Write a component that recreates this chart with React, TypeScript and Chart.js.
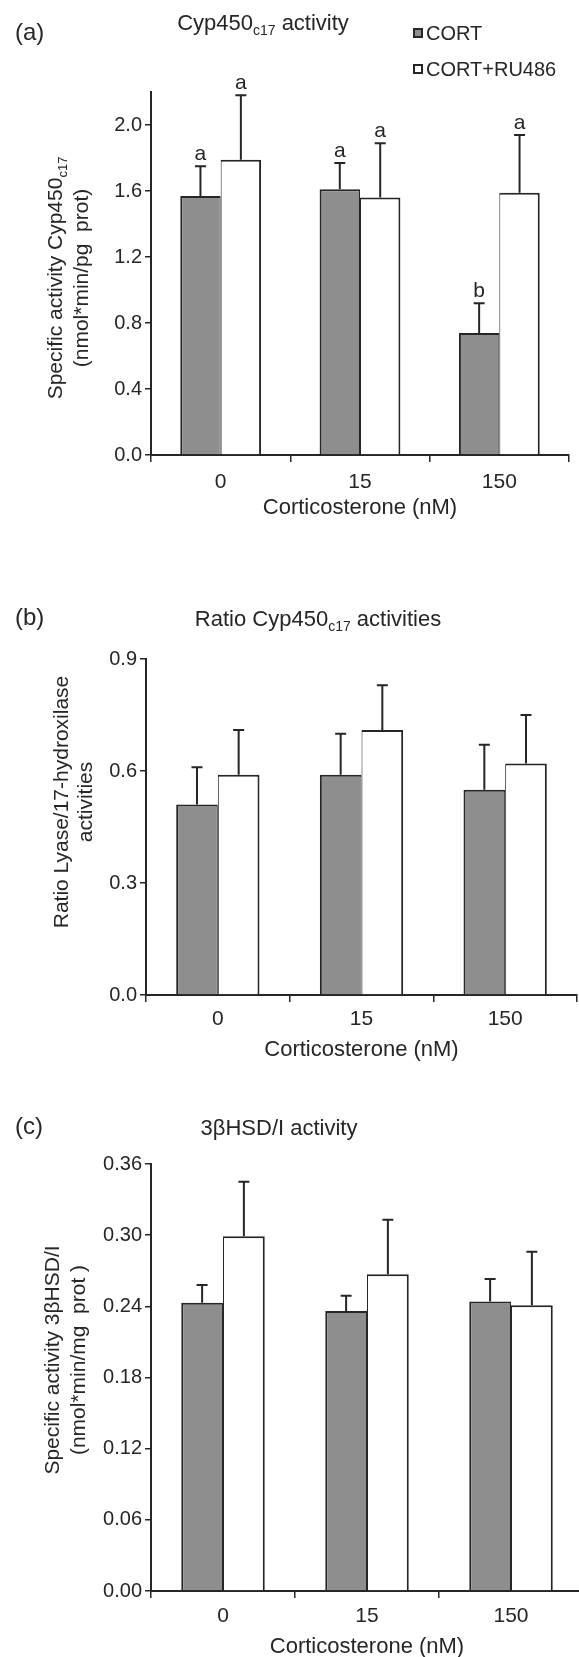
import React, { useEffect, useRef } from 'react';
import { Chart, registerables } from 'chart.js';

Chart.register(...registerables);

// ---------- data ----------
const categories = ['0', '15', '150'];
const seriesNames = ['CORT', 'CORT+RU486'];

// (a) Cyp450c17 activity
const cypCort = [1.57, 1.61, 0.74];
const cypCortErr = [0.18, 0.16, 0.18];
const cypRu = [1.79, 1.56, 1.59];
const cypRuErr = [0.39, 0.33, 0.35];
const cypCortLetters = ['a', 'a', 'b'];
const cypRuLetters = ['a', 'a', 'a'];

// (b) Ratio Cyp450c17 activities
const ratioCort = [0.51, 0.59, 0.55];
const ratioCortErr = [0.1, 0.11, 0.12];
const ratioRu = [0.59, 0.71, 0.62];
const ratioRuErr = [0.12, 0.12, 0.13];

// (c) 3βHSD/I activity
const hsdCort = [0.243, 0.236, 0.244];
const hsdCortErr = [0.015, 0.013, 0.019];
const hsdRu = [0.299, 0.267, 0.241];
const hsdRuErr = [0.046, 0.046, 0.045];

const xTitle = 'Corticosterone (nM)';

// ---------- styling ----------
const FONT = "'Liberation Sans', Arial, Helvetica, sans-serif";
const INK = '#262626';
const GRAY = '#8e8e8e';

type Part = { t: string; sub?: boolean };

interface PanelSpec {
  top: number;
  width: number;
  height: number;
  area: { left: number; right: number; top: number; bottom: number };
  yMax: number;
  yStep: number;
  decimals: number;
  cort: number[];
  cortErr: number[];
  ru: number[];
  ruErr: number[];
  cortLetters?: string[];
  ruLetters?: string[];
  panelLabel: string;
  labelY: number;
  title: Part[];
  titleX: number;
  titleY: number;
  yTitle: Part[][];
  yTitleX: number[];
  yTitleY: number;
  legend?: boolean;
  xTickPad: number;
}

const panels: PanelSpec[] = [
  {
    top: 0,
    width: 579,
    height: 521,
    area: { left: 151, right: 569, top: 92, bottom: 455 },
    yMax: 2.2,
    yStep: 0.4,
    decimals: 1,
    cort: cypCort,
    cortErr: cypCortErr,
    ru: cypRu,
    ruErr: cypRuErr,
    cortLetters: cypCortLetters,
    ruLetters: cypRuLetters,
    panelLabel: '(a)',
    labelY: 33,
    title: [{ t: 'Cyp450' }, { t: 'c17', sub: true }, { t: ' activity' }],
    titleX: 263,
    titleY: 22,
    yTitle: [
      [{ t: 'Specific activity Cyp450' }, { t: 'c17', sub: true }],
      [{ t: '(nmol*min/pg  prot)' }],
    ],
    yTitleX: [55, 81],
    yTitleY: 278,
    legend: true,
    xTickPad: 8,
  },
  {
    top: 560,
    width: 579,
    height: 503,
    area: { left: 146, right: 577, top: 659, bottom: 995 },
    yMax: 0.9,
    yStep: 0.3,
    decimals: 1,
    cort: ratioCort,
    cortErr: ratioCortErr,
    ru: ratioRu,
    ruErr: ratioRuErr,
    panelLabel: '(b)',
    labelY: 618,
    title: [{ t: 'Ratio Cyp450' }, { t: 'c17', sub: true }, { t: ' activities' }],
    titleX: 318,
    titleY: 618,
    yTitle: [[{ t: 'Ratio Lyase/17-hydroxilase' }], [{ t: 'activities' }]],
    yTitleX: [61, 85],
    yTitleY: 802,
    xTickPad: 5,
  },
  {
    top: 1080,
    width: 584,
    height: 580,
    area: { left: 151, right: 583, top: 1164, bottom: 1591 },
    yMax: 0.36,
    yStep: 0.06,
    decimals: 2,
    cort: hsdCort,
    cortErr: hsdCortErr,
    ru: hsdRu,
    ruErr: hsdRuErr,
    panelLabel: '(c)',
    labelY: 1127,
    title: [{ t: '3\u03B2HSD/I activity' }],
    titleX: 279,
    titleY: 1127,
    yTitle: [[{ t: 'Specific activity 3\u03B2HSD/I' }], [{ t: '(nmol*min/mg  prot )' }]],
    yTitleX: [52, 78],
    yTitleY: 1360,
    xTickPad: 6,
  },
];

function drawParts(
  ctx: CanvasRenderingContext2D,
  parts: Part[],
  x: number,
  baseline: number,
  size: number,
  align: 'center' | 'left'
) {
  const subSize = Math.round(size * 0.62);
  let total = 0;
  const widths: number[] = [];
  for (const p of parts) {
    ctx.font = `${p.sub ? subSize : size}px ${FONT}`;
    const w = ctx.measureText(p.t).width;
    widths.push(w);
    total += w;
  }
  let cx = align === 'center' ? x - total / 2 : x;
  ctx.textAlign = 'left';
  ctx.textBaseline = 'alphabetic';
  parts.forEach((p, i) => {
    ctx.font = `${p.sub ? subSize : size}px ${FONT}`;
    ctx.fillText(p.t, cx, p.sub ? baseline + size * 0.22 : baseline);
    cx += widths[i];
  });
}

function Panel({ spec }: { spec: PanelSpec }) {
  const ref = useRef<HTMLCanvasElement>(null);

  useEffect(() => {
    const canvas = ref.current;
    if (!canvas) return;
    const off = spec.top;
    const a = spec.area;

    const annotate = {
      id: 'annotate',
      afterDatasetsDraw(chart: any) {
        const ctx: CanvasRenderingContext2D = chart.ctx;
        const ys = chart.scales.y;
        ctx.save();
        const groups: [number[], number[], string[] | undefined][] = [
          [spec.cort, spec.cortErr, spec.cortLetters],
          [spec.ru, spec.ruErr, spec.ruLetters],
        ];
        groups.forEach(([vals, errs, letters], di) => {
          const meta = chart.getDatasetMeta(di);
          meta.data.forEach((el: any, i: number) => {
            const topPx = ys.getPixelForValue(vals[i] + errs[i]);
            const x = el.x;
            ctx.strokeStyle = INK;
            ctx.lineWidth = 2;
            ctx.beginPath();
            ctx.moveTo(x, el.y);
            ctx.lineTo(x, topPx);
            ctx.moveTo(x - 5.5, topPx);
            ctx.lineTo(x + 5.5, topPx);
            ctx.stroke();
            if (letters) {
              ctx.fillStyle = INK;
              ctx.font = `21px ${FONT}`;
              ctx.textAlign = 'center';
              ctx.textBaseline = 'alphabetic';
              ctx.fillText(letters[i], x, topPx - 6);
            }
          });
        });
        ctx.restore();
      },
      afterDraw(chart: any) {
        const ctx: CanvasRenderingContext2D = chart.ctx;
        ctx.save();
        ctx.fillStyle = INK;
        // panel label
        ctx.font = `24px ${FONT}`;
        ctx.textAlign = 'left';
        ctx.textBaseline = 'middle';
        ctx.fillText(spec.panelLabel, 15, spec.labelY - off);
        // title
        drawParts(ctx, spec.title, spec.titleX, spec.titleY - off + 22 * 0.35, 22, 'center');
        // y-axis title
        spec.yTitle.forEach((line, i) => {
          ctx.save();
          ctx.translate(spec.yTitleX[i], spec.yTitleY - off);
          ctx.rotate(-Math.PI / 2);
          drawParts(ctx, line, 0, 21 * 0.35, 21, 'center');
          ctx.restore();
        });
        // legend
        if (spec.legend) {
          const rows = [
            { name: seriesNames[0], fill: GRAY, y: 33 },
            { name: seriesNames[1], fill: '#ffffff', y: 69 },
          ];
          rows.forEach((r) => {
            const yy = r.y - off;
            ctx.fillStyle = INK;
            ctx.fillRect(413, yy - 5, 10, 10);
            ctx.fillStyle = r.fill;
            ctx.fillRect(415, yy - 3, 6, 6);
            ctx.fillStyle = INK;
            ctx.font = `20px ${FONT}`;
            ctx.textAlign = 'left';
            ctx.textBaseline = 'middle';
            ctx.fillText(r.name, 426, yy + 1);
          });
        }
        ctx.restore();
      },
    };

    const chart = new Chart(canvas, {
      type: 'bar',
      data: {
        labels: categories,
        datasets: [
          {
            label: seriesNames[0],
            data: spec.cort,
            backgroundColor: GRAY,
            borderColor: INK,
            borderWidth: { left: 2, top: 2, right: 1, bottom: 0 } as any,
            borderSkipped: false,
            categoryPercentage: 0.58,
            barPercentage: 1.0,
          },
          {
            label: seriesNames[1],
            data: spec.ru,
            backgroundColor: '#ffffff',
            borderColor: INK,
            borderWidth: { left: 1, top: 2, right: 2, bottom: 0 } as any,
            borderSkipped: false,
            categoryPercentage: 0.58,
            barPercentage: 1.0,
          },
        ],
      },
      options: {
        responsive: false,
        animation: false,
        devicePixelRatio: 1,
        layout: {
          padding: { top: a.top - off, right: spec.width - a.right, left: 0, bottom: 0 },
        },
        plugins: {
          legend: { display: false },
          title: { display: false },
          tooltip: { enabled: false },
        },
        scales: {
          x: {
            type: 'category',
            offset: true,
            grid: {
              offset: true,
              drawOnChartArea: false,
              drawTicks: true,
              tickLength: 7,
              color: INK,
              lineWidth: 1.5,
            },
            border: { display: true, color: INK, width: 2 },
            ticks: {
              color: INK,
              font: { family: FONT, size: 21 },
              padding: spec.xTickPad,
              maxRotation: 0,
            },
            title: {
              display: true,
              text: xTitle,
              color: INK,
              font: { family: FONT, size: 22 },
              padding: 0,
            },
            afterFit: (s: any) => {
              s.height = spec.height - (a.bottom - off);
            },
          },
          y: {
            min: 0,
            max: spec.yMax,
            grid: {
              drawOnChartArea: false,
              drawTicks: true,
              tickLength: 6,
              color: INK,
              lineWidth: 1.5,
            },
            border: { display: true, color: INK, width: 2 },
            ticks: {
              stepSize: spec.yStep,
              includeBounds: false,
              color: INK,
              font: { family: FONT, size: 20 },
              padding: 3,
              callback: (v: any) => Number(v).toFixed(spec.decimals),
            },
            afterFit: (s: any) => {
              s.width = a.left;
            },
          },
        },
      } as any,
      plugins: [annotate],
    });

    return () => chart.destroy();
  }, [spec]);

  return (
    <canvas
      ref={ref}
      width={spec.width}
      height={spec.height}
      style={{ position: 'absolute', left: 0, top: spec.top, width: spec.width, height: spec.height }}
    />
  );
}

export default function App() {
  return (
    <div
      style={{
        position: 'absolute',
        left: 0,
        top: 0,
        width: 579,
        height: 1657,
        overflow: 'hidden',
        background: '#ffffff',
      }}
    >
      {panels.map((p, i) => (
        <Panel key={i} spec={p} />
      ))}
    </div>
  );
}
